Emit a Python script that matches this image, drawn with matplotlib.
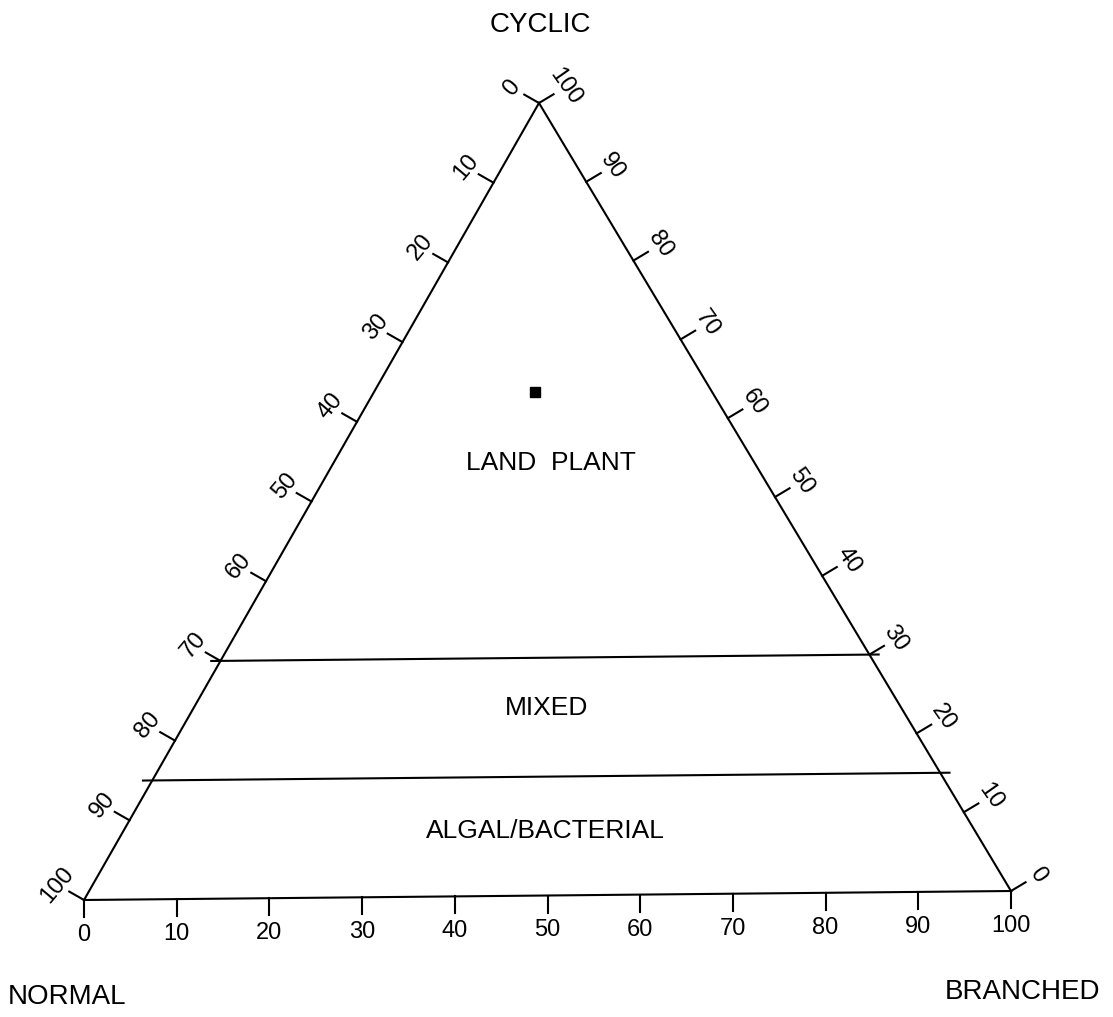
import numpy as np
import matplotlib
matplotlib.use("Agg")
import matplotlib.pyplot as plt

# ternary diagram: normal / branched / cyclic alkanes

TICKS = [0, 10, 20, 30, 40, 50, 60, 70, 80, 90, 100]
BOUNDARIES_CYCLIC = [30, 15]          # % cyclic at the zone boundaries
ZONE_LABELS = ["LAND PLANT", "MIXED", "ALGAL/BACTERIAL"]
ZONE_CYCLIC = [54.6, 23.7, 8.2]       # label positions (% cyclic)
ZONE_BRANCHED = [23.6, 38.3, 45.8]
SAMPLE_NORMAL = [19]
SAMPLE_BRANCHED = [17.5]
SAMPLE_CYCLIC = [63.5]

# vertices in pixel space (scan is slightly tilted)
V_N = np.array([84.0, 900.0])
V_B = np.array([1011.0, 891.0])
V_C = np.array([539.0, 103.0])

FONT = "Liberation Sans"


def tern(n, b, c):
    n, b, c = np.asarray(n) / 100, np.asarray(b) / 100, np.asarray(c) / 100
    x = n * V_N[0] + b * V_B[0] + c * V_C[0]
    y = n * V_N[1] + b * V_B[1] + c * V_C[1]
    return x, y


def unit(v):
    return v / np.hypot(*v)


fig = plt.figure(figsize=(11.13, 10.17), dpi=100)
ax = fig.add_axes([0, 0, 1, 1])
ax.set_xlim(0, 1113)
ax.set_ylim(1017, 0)
ax.set_aspect("equal")
ax.axis("off")

lw = 1.5
tri = np.array([V_N, V_B, V_C, V_N])
ax.plot(tri[:, 0], tri[:, 1], color="black", lw=lw, solid_joinstyle="miter")

tick_len = 17
lab_off = 31
tick_fs = 17

# left edge: normal %, 0 at top, 100 at bottom-left
d = unit(V_C - V_N)
out_l = np.array([d[1], -d[0]])
out_l = out_l if out_l[0] < 0 else -out_l
for t in TICKS:
    x, y = tern(t, 0, 100 - t)
    ax.plot([x, x + tick_len * out_l[0]], [y, y + tick_len * out_l[1]], color="black", lw=lw)
    ax.text(x + lab_off * out_l[0], y + lab_off * out_l[1], str(t), rotation=50,
            ha="center", va="center", fontsize=tick_fs, family=FONT, rotation_mode="anchor")

# right edge: cyclic %, 100 at top, 0 at bottom-right
d = unit(V_C - V_B)
out_r = np.array([-d[1], d[0]])
out_r = out_r if out_r[0] > 0 else -out_r
for t in TICKS:
    x, y = tern(0, 100 - t, t)
    ax.plot([x, x + tick_len * out_r[0]], [y, y + tick_len * out_r[1]], color="black", lw=lw)
    ax.text(x + lab_off * out_r[0], y + lab_off * out_r[1], str(t), rotation=-55,
            ha="center", va="center", fontsize=tick_fs, family=FONT, rotation_mode="anchor")

# bottom edge: branched %, 0 at left, 100 at right
for t in TICKS:
    x, y = tern(100 - t, t, 0)
    ax.plot([x, x], [y, y + tick_len], color="black", lw=lw)
    ax.text(x, y + 35, str(t), ha="center", va="center", fontsize=tick_fs, family=FONT)

# zone boundaries (drawn a little past the edges, as in the original)
for c in BOUNDARIES_CYCLIC:
    x0, y0 = tern(100 - c + 1, -1, c)
    x1, y1 = tern(-1, 100 - c + 1, c)
    ax.plot([x0, x1], [y0, y1], color="black", lw=lw)

for lab, c, b in zip(ZONE_LABELS, ZONE_CYCLIC, ZONE_BRANCHED):
    x, y = tern(100 - c - b, b, c)
    ax.text(x, y, lab.replace(" ", "  "), ha="center", va="center",
            fontsize=19, family=FONT)

sx, sy = tern(SAMPLE_NORMAL, SAMPLE_BRANCHED, SAMPLE_CYCLIC)
ax.plot(sx, sy, "s", color="black", ms=7)

ax.text(540, 25, "CYCLIC", ha="center", va="center", fontsize=20, family=FONT)
ax.text(8, 997, "NORMAL", ha="left", va="center", fontsize=20, family=FONT)
ax.text(1100, 992, "BRANCHED", ha="right", va="center", fontsize=20, family=FONT)

fig.savefig("out.png", dpi=100)
